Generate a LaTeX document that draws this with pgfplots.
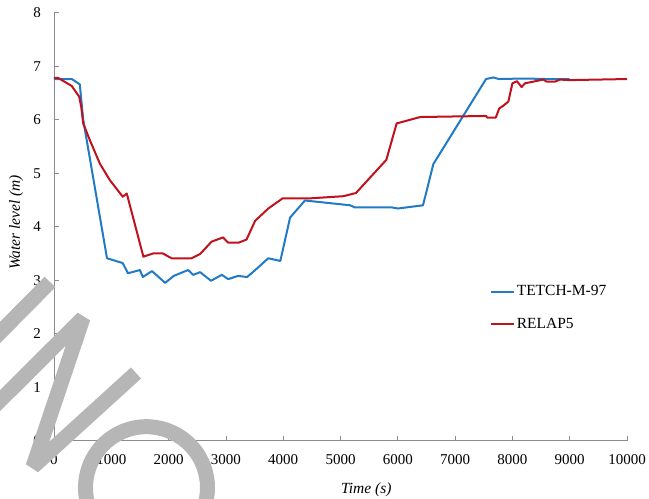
\documentclass[border=0pt]{standalone}
\usepackage{fontspec}
\setmainfont{Liberation Serif}
\usepackage{pgfplots}
\pgfplotsset{compat=1.18}
\definecolor{tblue}{RGB}{33,122,196}
\definecolor{rred}{RGB}{192,18,28}
\definecolor{axgray}{RGB}{140,140,140}
\definecolor{wm}{RGB}{182,182,182}
\begin{document}
\fontsize{15bp}{18bp}\selectfont
\begin{tikzpicture}
\useasboundingbox (-54bp,-58.3bp) rectangle (595bp,440.7bp);
\begin{axis}[
  at={(0,0)}, anchor=south west,
  scale only axis, width=573bp, height=428bp,
  xmin=0, xmax=10000, ymin=0, ymax=8,
  axis x line=bottom, axis y line=left,
  axis line style={-, axgray, line width=0.8bp},
  tick style={axgray, line width=0.8bp},
  major tick length=5bp,
  tick align=inside,
  xtick={0,1000,...,10000}, ytick={0,1,...,8},
  scaled ticks=false,
  /pgf/number format/1000 sep={},
  /pgf/number format/assume math mode=true,
  tick label style={font=\fontsize{15bp}{18bp}\selectfont, black},
  xticklabel style={yshift=-9bp},
  yticklabel style={xshift=-8bp},
  xlabel={\textit{Time (s)}},
  ylabel={\textit{Water level (m)}},
  label style={font=\fontsize{15.5bp}{18bp}\selectfont},
  xlabel style={at={(axis description cs:0.545,0)}, anchor=base, yshift=-53bp},
  ylabel style={at={(axis description cs:-0.066,0.51)}, anchor=center, rotate=0},
  legend style={draw=none, fill=none, at={(axis description cs:0.755,0.372)}, anchor=north west,
    font=\fontsize{15.5bp}{18bp}\selectfont, row sep=16bp,
    /tikz/every even column/.append style={column sep=0bp}},
  legend cell align=left,
  legend image code/.code={\draw[#1] (0bp,0bp) -- (23bp,0bp);},
  clip=false,
]
\addplot[tblue, line width=2bp, line join=round] coordinates {
(0,6.76) (310,6.76) (450,6.66) (510,6.0) (925,3.41) (1200,3.32) (1290,3.13)
(1500,3.19) (1550,3.06) (1710,3.17) (1940,2.95) (2090,3.08) (2340,3.19)
(2430,3.10) (2550,3.15) (2740,2.99) (2930,3.10) (3040,3.02) (3210,3.08)
(3370,3.06) (3470,3.15) (3740,3.41) (3950,3.36) (4120,4.17) (4380,4.49)
(5170,4.40) (5250,4.36) (5900,4.36) (6000,4.34) (6440,4.40) (6620,5.17)
(7540,6.76) (7670,6.79) (7760,6.76) (8200,6.77) (8600,6.76) (9000,6.76)
};
\addlegendentry{TETCH-M-97}
\addplot[rred, line width=2bp, line join=round] coordinates {
(0,6.78) (75,6.78) (310,6.63) (440,6.43) (475,6.24) (510,5.93) (625,5.62)
(800,5.18) (975,4.87) (1200,4.56) (1270,4.62) (1560,3.44) (1730,3.50)
(1900,3.50) (2050,3.41) (2400,3.41) (2550,3.49) (2750,3.72) (2950,3.80)
(3040,3.70) (3220,3.70) (3360,3.76) (3510,4.11) (3740,4.34) (3990,4.53)
(4470,4.53) (5050,4.57) (5270,4.63) (5800,5.25) (5980,5.93) (6390,6.05)
(7540,6.07) (7560,6.04) (7710,6.04) (7770,6.21) (7840,6.26) (7930,6.34)
(8000,6.68) (8080,6.72) (8160,6.61) (8220,6.68) (8540,6.75) (8600,6.71)
(8740,6.71) (8830,6.75) (9000,6.74) (10000,6.76)
};
\addlegendentry{RELAP5}
\end{axis}
% watermark overlay present in the reference image
\begin{scope}[wm, line width=15bp, line cap=butt, line join=bevel]
\draw (-4bp,158.7bp) -- (-70bp,92bp);
\draw (-74bp,20.2bp) -- (29bp,122.7bp) -- (-21bp,-26bp) -- (82bp,67.7bp);
\draw (92.5bp,-47bp) ++(200:61bp) arc[start angle=200, end angle=-20, radius=61bp];
\end{scope}
\end{tikzpicture}
\end{document}
